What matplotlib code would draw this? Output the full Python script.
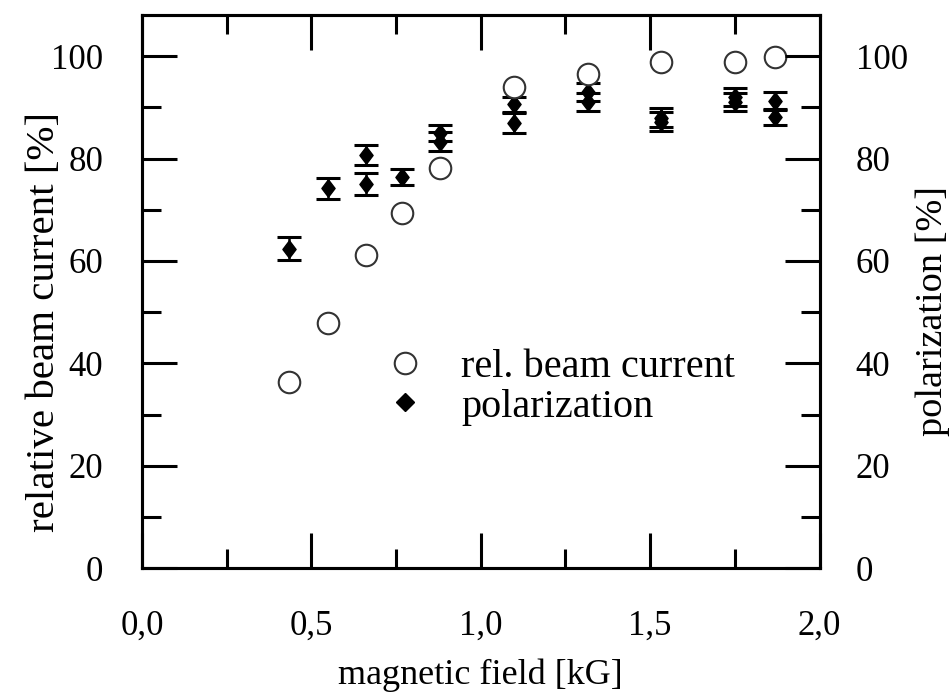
import matplotlib.pyplot as plt
from matplotlib.lines import Line2D
from matplotlib.ticker import MultipleLocator, FuncFormatter

# relative beam current (open circles)
field_cur = [0.434, 0.549, 0.661, 0.767, 0.879, 1.097, 1.316, 1.531, 1.749, 1.867]
beam_cur = [36.4, 47.8, 61.1, 69.4, 78.1, 94.0, 96.6, 98.8, 98.9, 99.9]

# polarization (filled diamonds) with errors
field_pol = [0.434, 0.549, 0.661, 0.661, 0.767, 0.879, 0.879, 1.097, 1.097,
             1.316, 1.316, 1.531, 1.531, 1.749, 1.749, 1.867, 1.867]
pol = [62.4, 74.2, 80.7, 75.0, 76.4, 85.0, 83.3, 90.6, 86.9,
       93.0, 91.0, 88.0, 87.2, 92.0, 91.0, 91.2, 88.1]
pol_err = [2.2, 2.0, 2.0, 2.2, 1.6, 1.5, 1.8, 1.5, 2.0,
           1.8, 1.8, 1.8, 1.8, 1.8, 1.8, 1.8, 1.6]

plt.rcParams['font.family'] = ['Liberation Serif', 'DejaVu Serif']
plt.rcParams['font.size'] = 25

diamond = [(0, 1), (0.76, 0), (0, -1), (-0.76, 0), (0, 1)]

fig = plt.figure(figsize=(9.53, 6.92), dpi=100)
ax = fig.add_axes([0.149, 0.179, 0.711, 0.799])

ax.errorbar(field_pol, pol, yerr=pol_err, fmt='none', ecolor='black',
            elinewidth=1.8, capsize=8.5, capthick=2.2, zorder=2)
ax.plot(field_pol, pol, linestyle='none', marker=diamond, color='black',
        markersize=12.5, zorder=3)
ax.plot(field_cur, beam_cur, 'o', markerfacecolor='white', markeredgecolor='#333333',
        markeredgewidth=1.5, markersize=15.5, zorder=4)

ax.set_xlim(0, 2.0)
ax.set_ylim(0, 108)
ax.xaxis.set_major_locator(MultipleLocator(0.5))
ax.xaxis.set_minor_locator(MultipleLocator(0.25))
ax.yaxis.set_major_locator(MultipleLocator(20))
ax.yaxis.set_minor_locator(MultipleLocator(10))
ax.xaxis.set_major_formatter(FuncFormatter(lambda v, p: ('%.1f' % v).replace('.', ',')))

ax.tick_params(which='both', direction='in', top=True, right=False, width=2.2)
ax.tick_params(which='major', length=25)
ax.tick_params(which='minor', length=14)
ax.tick_params(axis='x', which='major', pad=30)
ax.tick_params(axis='y', which='major', pad=28)
for s in ax.spines.values():
    s.set_linewidth(2.2)

ax.set_xlabel('magnetic field [kG]', fontsize=26, labelpad=11)
ax.set_ylabel('relative beam current [%]', fontsize=29.5)
ax.yaxis.set_label_coords(-0.116, 0.445)

ax2 = ax.twinx()
ax2.set_ylim(0, 108)
ax2.yaxis.set_major_locator(MultipleLocator(20))
ax2.yaxis.set_minor_locator(MultipleLocator(10))
ax2.tick_params(which='both', direction='in', width=2.2)
ax2.tick_params(which='major', length=25, pad=26)
ax2.tick_params(which='minor', length=14)
ax2.set_ylabel('polarization [%]', fontsize=27.5)
ax2.yaxis.set_label_coords(1.141, 0.465)
for s in ax2.spines.values():
    s.set_linewidth(2.2)

handles = [
    Line2D([], [], linestyle='none', marker='o', markerfacecolor='white',
           markeredgecolor='#333333', markeredgewidth=1.5, markersize=15.5),
    Line2D([], [], linestyle='none', marker='D', color='black', markersize=9),
]
ax.legend(handles, ['rel. beam current', 'polarization'], loc='center left',
          bbox_to_anchor=(0.328, 0.327), frameon=False, handletextpad=0.9,
          labelspacing=0.05, fontsize=29, handlelength=1.0, borderpad=0)

fig.savefig('out.png', dpi=100)
